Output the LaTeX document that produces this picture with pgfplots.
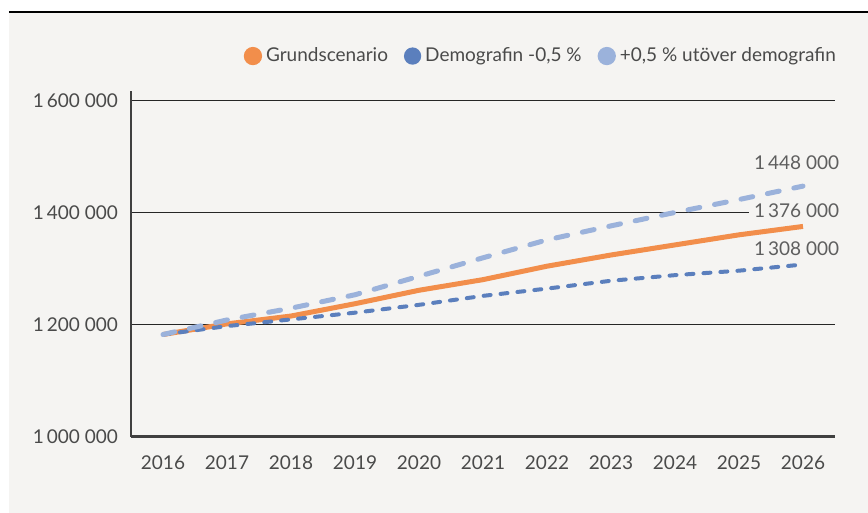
\documentclass[border=0pt]{standalone}
\usepackage{fontspec}
\setmainfont{Lato}
\usepackage{pgfplots}
\pgfplotsset{compat=1.18}
\definecolor{bgpanel}{HTML}{F5F4F2}
\definecolor{grund}{HTML}{F28E4B}
\definecolor{demlow}{HTML}{5B7FBD}
\definecolor{demhigh}{HTML}{9BB2DB}
\definecolor{txt}{HTML}{4A4A4A}
\definecolor{lbl}{HTML}{5E5E5E}

\begin{document}
\begin{tikzpicture}
% page frame: white strip above, grey panel below the black rule
\useasboundingbox (-65.5pt,-38pt) rectangle (368.5pt,218.5pt);
\fill[white] (-65.5pt,-38pt) rectangle (368.5pt,218.5pt);
\fill[bgpanel] (-61pt,-38pt) rectangle (368.5pt,212.5pt);
\draw[black, line width=0.8pt] (-61pt,212.5pt) -- (368.5pt,212.5pt);
\begin{axis}[
    at={(0,0)}, anchor=south west,
    scale only axis,
    width=352pt, height=173pt,
    xmin=2015.5, xmax=2026.5,
    ymin=1000000, ymax=1617857,
    scaled y ticks=false,
    axis lines=left,
    x axis line style={-, line width=1.5pt, color=black!75},
    y axis line style={-, line width=1pt, color=black!75},
    xtick={2016,2017,2018,2019,2020,2021,2022,2023,2024,2025,2026},
    xticklabels={2016,2017,2018,2019,2020,2021,2022,2023,2024,2025,2026},
    ytick={1000000,1200000,1400000,1600000},
    yticklabels={1\,000 000,1\,200 000,1\,400 000,1\,600 000},
    major tick length=0pt,
    ymajorgrids, major grid style={black!85, line width=0.5pt},
    tick label style={font=\fontsize{9.5}{11}\selectfont, color=txt},
    xticklabel style={yshift=-6pt},
    yticklabel style={xshift=-3pt},
    clip=false,
    legend columns=3,
    legend style={draw=none, fill=none, at={(1.016,1.101)}, anchor=east,
        font=\fontsize{9.5}{11}\selectfont, text=txt,
        /tikz/every even column/.append style={column sep=6pt}},
]
% Grundscenario
\addplot[color=grund, line width=2.5pt,
    legend image code/.code={\fill[grund] (3.3pt,0pt) circle (3.3pt);}] coordinates {
    (2016,1183000)(2017,1202000)(2018,1216000)(2019,1238000)(2020,1262000)
    (2021,1281000)(2022,1305000)(2023,1325000)(2024,1343000)(2025,1361000)(2026,1376000)
};
\addlegendentry{Grundscenario}
% Demografin -0,5 %
\addplot[color=demlow, line width=2pt, line cap=round, dash pattern=on 3.5pt off 5pt,
    legend image code/.code={\fill[demlow, solid] (3.3pt,0pt) circle (3.3pt);}] coordinates {
    (2016,1183000)(2017,1198000)(2018,1210000)(2019,1222000)(2020,1236000)
    (2021,1252000)(2022,1265000)(2023,1279000)(2024,1289000)(2025,1297000)(2026,1308000)
};
\addlegendentry{Demografin -0,5 \%}
% +0,5 % utover demografin
\addplot[color=demhigh, line width=2.5pt, line cap=round, dash pattern=on 6pt off 7.5pt,
    legend image code/.code={\fill[demhigh, solid] (3.3pt,0pt) circle (3.3pt);}] coordinates {
    (2016,1183000)(2017,1209000)(2018,1230000)(2019,1254000)(2020,1287000)
    (2021,1320000)(2022,1352000)(2023,1377000)(2024,1401000)(2025,1424000)(2026,1448000)
};
\addlegendentry{+0,5 \% utöver demografin}
% end values
\node[font=\fontsize{9.5}{11}\selectfont, text=lbl, fill=bgpanel, inner xsep=2.5pt, inner ysep=1pt]
    at (axis cs:2025.9,1489000) {1\,448 000};
\node[font=\fontsize{9.5}{11}\selectfont, text=lbl, fill=bgpanel, inner xsep=2.5pt, inner ysep=1pt]
    at (axis cs:2025.9,1405000) {1\,376 000};
\node[font=\fontsize{9.5}{11}\selectfont, text=lbl, fill=bgpanel, inner xsep=2.5pt, inner ysep=1pt]
    at (axis cs:2025.9,1335700) {1\,308 000};
\end{axis}
\end{tikzpicture}
\end{document}
